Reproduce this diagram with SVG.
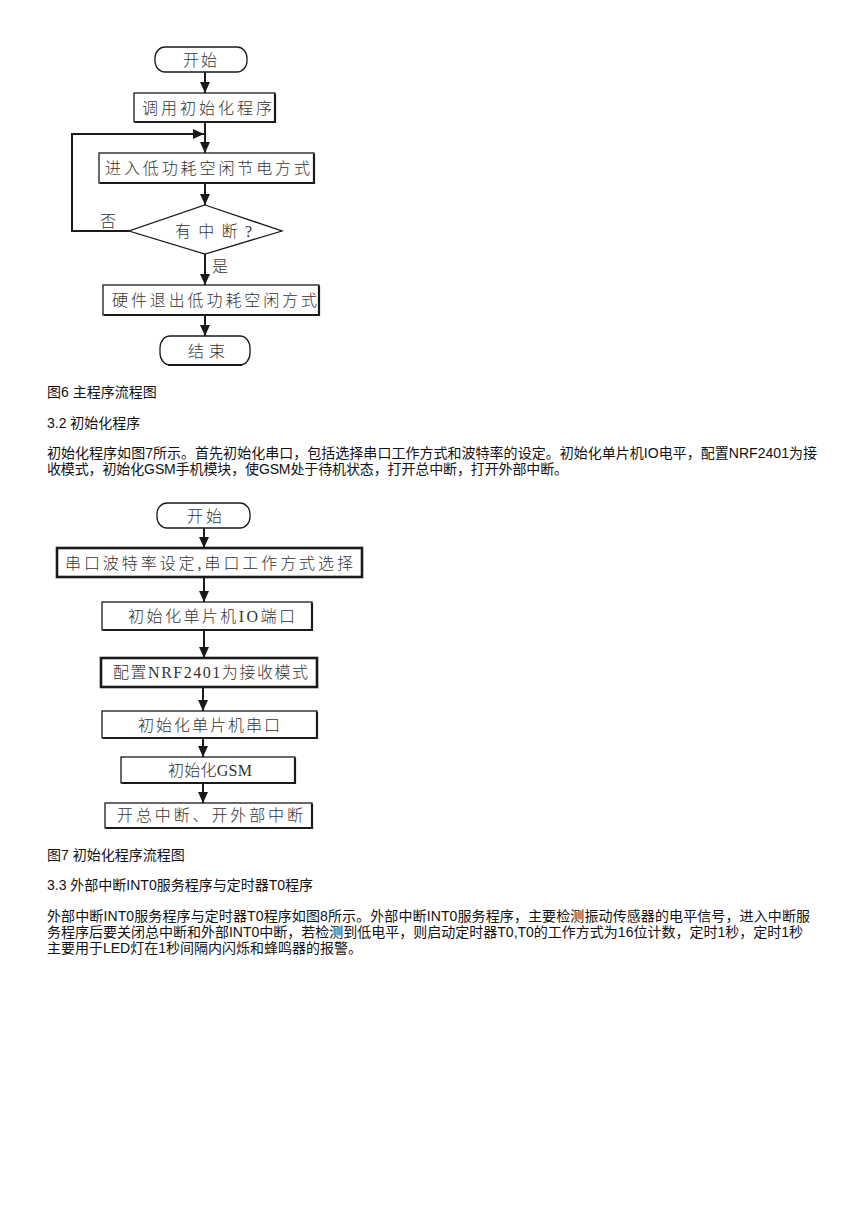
<svg xmlns="http://www.w3.org/2000/svg" width="868" height="1228" viewBox="0 0 868 1228">
<style>
.box{fill:#fff;stroke:#1a1a1a;stroke-width:1.3}
.thick{stroke-width:2.6}
.sh{fill:none;stroke:#1a1a1a;stroke-width:2.2}
.ft{font-family:"Liberation Serif","Noto Sans CJK SC",serif;font-size:16px;fill:#333;dominant-baseline:central;font-weight:300}
.body{font-family:"Liberation Sans","Noto Sans CJK SC",sans-serif;font-size:14px;fill:#111}
.conn line,.conn polyline{stroke:#1a1a1a;stroke-width:2;fill:none}
</style>
<defs>
<marker id="ah" markerUnits="userSpaceOnUse" markerWidth="11" markerHeight="10" viewBox="0 0 11 10" refX="11" refY="5" orient="auto"><path d="M0,0 L11,5 L0,10 z" fill="#1a1a1a"/></marker>
</defs>
<rect width="868" height="1228" fill="#fff"/>

<g class="conn" id="connectors1">
<line x1="205" y1="72" x2="205" y2="93" marker-end="url(#ah)"/>
<line x1="205" y1="122" x2="205" y2="153" marker-end="url(#ah)"/>
<line x1="205" y1="183" x2="205" y2="205" marker-end="url(#ah)"/>
<line x1="205" y1="254" x2="205" y2="285" marker-end="url(#ah)"/>
<line x1="205" y1="315" x2="205" y2="336" marker-end="url(#ah)"/>
<polyline points="129,231 72,231 72,134 204,134" marker-end="url(#ah)"/>
</g>

<g id="start1"><rect class="box" x="155" y="47" width="92" height="25" rx="10" ry="11"/><text class="ft" x="183" y="60" textLength="34">开始</text></g>
<g id="init1"><rect class="box" x="134" y="93" width="141" height="29"/><polyline class="sh" points="275,94 275,122 135,122"/><text class="ft" x="142" y="108.5" textLength="130">调用初始化程序</text></g>
<g id="idle"><rect class="box" x="99" y="153" width="215" height="30"/><polyline class="sh" points="314,154 314,183 100,183"/><text class="ft" x="105" y="168" textLength="205">进入低功耗空闲节电方式</text></g>
<g id="decision"><polygon class="box" points="205,205 282,231 205,254 129,231"/><text class="ft" x="175" y="231" textLength="77">有中断?</text></g>
<g id="lbl-no"><text class="ft" x="100" y="221" textLength="14">否</text></g>
<g id="lbl-yes"><text class="ft" x="212" y="266" textLength="15">是</text></g>
<g id="exit"><rect class="box" x="103" y="285" width="216" height="30"/><polyline class="sh" points="319,286 319,315 104,315"/><text class="ft" x="112" y="300.5" textLength="205">硬件退出低功耗空闲方式</text></g>
<g id="end1"><rect class="box" x="160" y="336" width="90" height="29" rx="10" ry="12"/><line class="sh" x1="168" y1="365" x2="242" y2="365"/><text class="ft" x="188" y="351" textLength="37">结束</text></g>

<g id="captions">
<text class="body" x="47" y="397">图6 主程序流程图</text>
<text class="body" x="47" y="428">3.2 初始化程序</text>
<text class="body" x="47" y="458" textLength="770">初始化程序如图7所示。首先初始化串口，包括选择串口工作方式和波特率的设定。初始化单片机IO电平，配置NRF2401为接</text>
<text class="body" x="47" y="474" textLength="521">收模式，初始化GSM手机模块，使GSM处于待机状态，打开总中断，打开外部中断。</text>
<text class="body" x="47" y="860">图7 初始化程序流程图</text>
<text class="body" x="47" y="890">3.3 外部中断INT0服务程序与定时器T0程序</text>
<text class="body" x="47" y="921" textLength="763">外部中断INT0服务程序与定时器T0程序如图8所示。外部中断INT0服务程序，主要检测振动传感器的电平信号，进入中断服</text>
<text class="body" x="47" y="937" textLength="756">务程序后要关闭总中断和外部INT0中断，若检测到低电平，则启动定时器T0,T0的工作方式为16位计数，定时1秒，定时1秒</text>
<text class="body" x="47" y="953">主要用于LED灯在1秒间隔内闪烁和蜂鸣器的报警。</text>
</g>

<g class="conn" id="connectors2">
<line x1="204" y1="528" x2="204" y2="548" marker-end="url(#ah)"/>
<line x1="204" y1="577" x2="204" y2="602" marker-end="url(#ah)"/>
<line x1="204" y1="630" x2="204" y2="658" marker-end="url(#ah)"/>
<line x1="203" y1="687" x2="203" y2="711" marker-end="url(#ah)"/>
<line x1="203" y1="738" x2="203" y2="757" marker-end="url(#ah)"/>
<line x1="203" y1="783" x2="203" y2="803" marker-end="url(#ah)"/>
</g>

<g id="start2"><rect class="box" x="157" y="503" width="93" height="25" rx="10" ry="11"/><text class="ft" x="187" y="516.5" textLength="35">开始</text></g>
<g id="serial"><rect class="box thick" x="57" y="548" width="305" height="29"/><text class="ft" x="65" y="563" textLength="288">串口波特率设定,串口工作方式选择</text></g>
<g id="io"><rect class="box" x="102" y="602" width="210" height="28"/><polyline class="sh" points="312,603 312,630 103,630"/><text class="ft" x="128" y="616.5" textLength="167">初始化单片机IO端口</text></g>
<g id="nrf"><rect class="box thick" x="101" y="658" width="216" height="29"/><text class="ft" x="113" y="672" textLength="195">配置NRF2401为接收模式</text></g>
<g id="uart"><rect class="box" x="102" y="711" width="215" height="27"/><polyline class="sh" points="317,712 317,738 103,738"/><text class="ft" x="138" y="725" textLength="142">初始化单片机串口</text></g>
<g id="gsm"><rect class="box" x="121" y="757" width="174" height="26"/><polyline class="sh" points="295,758 295,783 122,783"/><text class="ft" x="168" y="770.5" textLength="84">初始化GSM</text></g>
<g id="intr"><rect class="box" x="105" y="803" width="207" height="25"/><polyline class="sh" points="312,804 312,828 106,828"/><text class="ft" x="117" y="815" textLength="186">开总中断、开外部中断</text></g>
</svg>
